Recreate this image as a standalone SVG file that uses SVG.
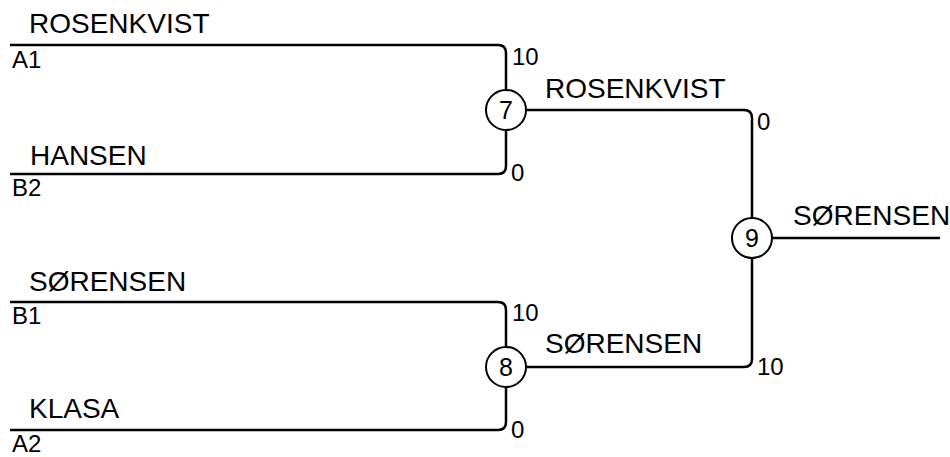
<svg xmlns="http://www.w3.org/2000/svg" width="950" height="457" viewBox="0 0 950 457">
<style>
.ln{fill:none;stroke:#000;stroke-width:2.5}
.c{fill:#fff;stroke:#000;stroke-width:2}
.nm{font-family:"Liberation Sans",Arial,sans-serif;font-size:28px;fill:#000}
.sm{font-family:"Liberation Sans",Arial,sans-serif;font-size:24px;fill:#000}
.cn{font-family:"Liberation Sans",Arial,sans-serif;font-size:25px;fill:#000;text-anchor:middle}
</style>
<rect width="950" height="457" fill="#fff"/>
<g id="connectors">
<path class="ln" d="M10,45 H498 Q506,45 506,53 V90"/>
<path class="ln" d="M10,174 H498 Q506,174 506,166 V130"/>
<path class="ln" d="M10,302 H498 Q506,302 506,310 V347"/>
<path class="ln" d="M10,430 H498 Q506,430 506,422 V387"/>
<path class="ln" d="M526,110 H744 Q752,110 752,118 V218"/>
<path class="ln" d="M526,367 H744 Q752,367 752,359 V258"/>
<path class="ln" d="M772,238 H940"/>
</g>
<g id="entrant-A1">
<text class="nm" x="29" y="33">ROSENKVIST</text>
<text class="sm" x="12" y="68">A1</text>
</g>
<g id="entrant-B2">
<text class="nm" x="30" y="165">HANSEN</text>
<text class="sm" x="12" y="196">B2</text>
</g>
<g id="entrant-B1">
<text class="nm" x="29" y="291">SØRENSEN</text>
<text class="sm" x="12" y="324">B1</text>
</g>
<g id="entrant-A2">
<text class="nm" x="29" y="418">KLASA</text>
<text class="sm" x="12" y="452">A2</text>
</g>
<g id="match-7">
<circle class="c" cx="506" cy="110" r="20"/>
<text class="cn" x="506" y="119">7</text>
<text class="sm" x="512" y="65">10</text>
<text class="sm" x="511" y="181">0</text>
<text class="nm" x="545" y="98">ROSENKVIST</text>
</g>
<g id="match-8">
<circle class="c" cx="506" cy="367" r="20"/>
<text class="cn" x="506" y="376">8</text>
<text class="sm" x="512" y="321">10</text>
<text class="sm" x="511" y="438">0</text>
<text class="nm" x="545" y="353">SØRENSEN</text>
</g>
<g id="match-9">
<circle class="c" cx="752" cy="238" r="20"/>
<text class="cn" x="752" y="247">9</text>
<text class="sm" x="757" y="130">0</text>
<text class="sm" x="757" y="375">10</text>
<text class="nm" x="793" y="225">SØRENSEN</text>
</g>
</svg>
